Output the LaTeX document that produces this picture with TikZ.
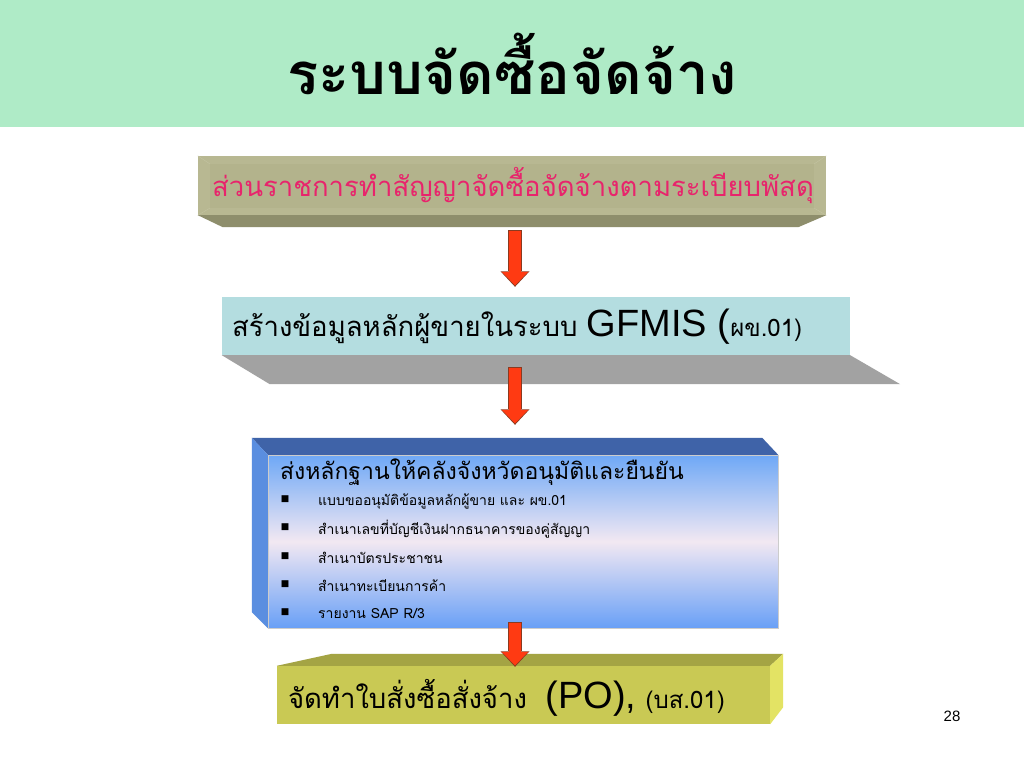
\documentclass[tikz,border=0pt]{standalone}
\usepackage{fontspec}
\newfontfamily\thaifont[Script=Thai]{Loma}
\newfontfamily\arialfont{Liberation Sans}
\newfontfamily\symfont{DejaVu Sans}
\usepackage{tikz}
\usetikzlibrary{arrows.meta}
\usetikzlibrary{calc}
\usetikzlibrary{positioning}

\definecolor{titlegreen}{HTML}{AFEBC7}
\definecolor{khakiface}{HTML}{B8B892}
\definecolor{khakiinner}{HTML}{B3B38C}
\definecolor{khakidark}{HTML}{8E8E6C}
\definecolor{pinkred}{HTML}{E8246C}
\definecolor{paleblue}{HTML}{B4DDE0}
\definecolor{shadowgrey}{HTML}{A2A2A2}
\definecolor{navytop}{HTML}{3F63A8}
\definecolor{blueside}{HTML}{5A8EE0}
\definecolor{bluefront}{HTML}{6EA8F6}
\definecolor{pinkwhite}{HTML}{F2E8F2}
\definecolor{olivetop}{HTML}{A4A444}
\definecolor{olivefront}{HTML}{C9C954}
\definecolor{oliveside}{HTML}{E3E364}
\definecolor{arrowred}{HTML}{FF3A12}
\definecolor{arrowbrown}{HTML}{8A3A20}

\begin{document}
\begin{tikzpicture}[x=1pt,y=-1pt,
    face/.style={inner sep=0pt, minimum width=#1},
    thaitext/.style={inner sep=0pt, font=\thaifont\fontsize{#1}{#1}\selectfont},
    arrowrim/.style={line width=14.6pt, draw=arrowbrown,
      -{Triangle[width=29pt,length=15.5pt,line width=0pt]}},
    arrowcore/.style={line width=12.8pt, draw=arrowred,
      shorten <=0.9pt, shorten >=1.4pt,
      -{Triangle[width=26.4pt,length=13.6pt,line width=0pt]}}]
  \useasboundingbox (0,0) rectangle (1024,768);
  \fill[white] (0,0) rectangle (1024,768);
  \fill[titlegreen] (0,0) rectangle (1024,127);
  \node[inner sep=0pt, font=\thaifont\bfseries\fontsize{58}{58}\selectfont] (title) at (512,64) {ระบบจัดซื้อจัดจ้าง};
  \coordinate (spine) at (515,0);

  % box 1
  \node[face=628pt, minimum height=59pt, fill=khakiface] (contract) at (512,185.5) {};
  \fill[khakiinner] ($(contract.north west)+(12,8)$) rectangle ($(contract.south east)+(-12,-7)$);
  \draw[khakiface!85!white, thin] (contract.north west) -- ++(12,8)
    (contract.north east) -- ++(-12,8)
    (contract.south west) -- ++(12,-7)
    (contract.south east) -- ++(-12,-7);
  \fill[khakidark] (contract.south west) -- (contract.south east)
    -- ++(-28,12) -- ($(contract.south west)+(25,12)$) -- cycle;
  \node[thaitext=27.5, text=pinkred] (contracttext) at ($(contract.center)+(1,0)$) {ส่วนราชการทำสัญญาจัดซื้อจัดจ้างตามระเบียบพัสดุ};

  % box 2
  \node[face=628pt, minimum height=58pt, fill=paleblue] (vendor) at (536,326) {};
  \fill[shadowgrey] (vendor.south west) -- (vendor.south east)
    -- ++(50,29) -- ($(vendor.south west)+(48,29)$) -- cycle;
  \node[thaitext=27.5, anchor=west] (vendortext) at ($(vendor.west)+(10,1)$)
    {สร้างข้อมูลหลักผู้ขายในระบบ {\arialfont\fontsize{38}{38}\selectfont GFMIS (}{\fontsize{24}{24}\selectfont ผข.01)}};

  % box 3
  \node[face=510pt, minimum height=173pt, draw=gray!40, top color=bluefront,
    bottom color=bluefront!95!blue, middle color=pinkwhite] (evidence) at (523,541.5) {};
  \fill[navytop] (evidence.north west) -- ++(-16,-17)
    -- ($(evidence.north east)+(-16,-17)$) -- (evidence.north east) -- cycle;
  \fill[blueside] (evidence.north west) -- ++(-16,-17)
    -- ($(evidence.south west)+(-16,-16)$) -- (evidence.south west) -- cycle;
  \node[thaitext=23, anchor=west] (evidencehead) at ($(evidence.north west)+(12,17)$)
    {ส่งหลักฐานให้คลังจังหวัดอนุมัติและยืนยัน};
  \node[font=\symfont\fontsize{9}{9}\selectfont, inner sep=0pt] (bullet1) at (285,499) {■};
  \node[font=\symfont\fontsize{9}{9}\selectfont, inner sep=0pt] (bullet2) at (285,527) {■};
  \node[font=\symfont\fontsize{9}{9}\selectfont, inner sep=0pt] (bullet3) at (285,556) {■};
  \node[font=\symfont\fontsize{9}{9}\selectfont, inner sep=0pt] (bullet4) at (285,584) {■};
  \node[font=\symfont\fontsize{9}{9}\selectfont, inner sep=0pt] (bullet5) at (285,612) {■};
  \node[thaitext=14, anchor=west] (item1) at (318,501) {แบบขออนุมัติข้อมูลหลักผู้ขาย และ ผข.01};
  \node[thaitext=14, anchor=west] (item2) at (318,529) {สำเนาเลขที่บัญชีเงินฝากธนาคารของคู่สัญญา};
  \node[thaitext=14, anchor=west] (item3) at (318,558) {สำเนาบัตรประชาชน};
  \node[thaitext=14, anchor=west] (item4) at (318,586) {สำเนาทะเบียนการค้า};
  \node[thaitext=14, anchor=west] (item5) at (318,614) {รายงาน SAP R/3};

  % box 4
  \node[face=493pt, minimum height=58pt, fill=olivefront] (order) at (523.5,695) {};
  \fill[olivetop] (order.north west) -- ++(55,-12)
    -- ($(order.north east)+(13,-12)$) -- (order.north east) -- cycle;
  \fill[oliveside] (order.north east) -- ++(13,-12)
    -- ($(order.south east)+(13,-17)$) -- (order.south east) -- cycle;
  \node[thaitext=27.5, anchor=west] (ordertext) at ($(order.west)+(11,3)$)
    {จัดทำใบสั่งซื้อสั่งจ้าง\ \ {\arialfont\fontsize{38}{38}\selectfont (PO),} {\fontsize{24}{24}\selectfont (บส.01)}};

  % arrows
  \draw[arrowrim] ($(contract.south -| spine)+(0,15)$) -- ($(vendor.north -| spine)+(0,-10)$);
  \draw[arrowcore] ($(contract.south -| spine)+(0,15)$) -- ($(vendor.north -| spine)+(0,-10)$);
  \draw[arrowrim] ($(vendor.south -| spine)+(0,12)$) -- ($(evidence.north -| spine)+(0,-30)$);
  \draw[arrowcore] ($(vendor.south -| spine)+(0,12)$) -- ($(evidence.north -| spine)+(0,-30)$);
  \draw[arrowrim] ($(evidence.south -| spine)+(0,-6)$) -- ($(order.north -| spine)+(0,1)$);
  \draw[arrowcore] ($(evidence.south -| spine)+(0,-6)$) -- ($(order.north -| spine)+(0,1)$);

  \node[font=\arialfont\fontsize{15}{15}\selectfont] (pagenum) at (952,716) {28};
\end{tikzpicture}
\end{document}
